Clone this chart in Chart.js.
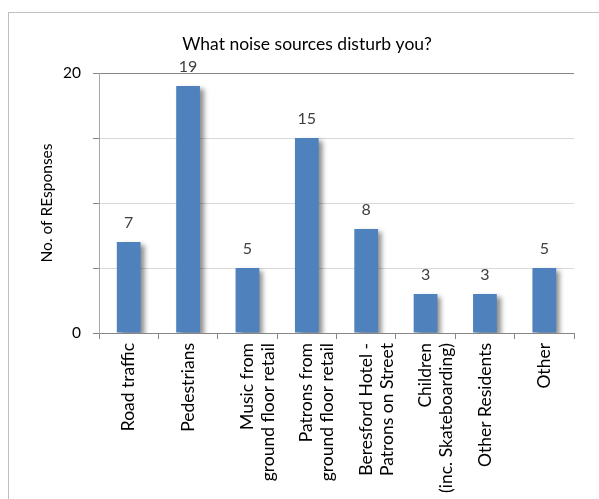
<!DOCTYPE html>
<html lang="en">
<head>
    <meta charset="UTF-8">
    <title>What noise sources disturb you?</title>
    <script src="https://cdn.jsdelivr.net/npm/chart.js"></script>
    <style>
        html, body { margin: 0; padding: 0; background: #fff; }
        #wrap { position: relative; width: 599px; height: 499px; overflow: hidden; }
        /* chart frame, it runs past the right and bottom edge */
        #frame {
            position: absolute; left: 8px; top: 12px;
            width: 640px; height: 540px;
            border: 1px solid #bfbfbf;
        }
        #chart { position: absolute; left: 0; top: 0; }
    </style>
</head>
<body>
    <div id="wrap">
        <div id="frame"></div>
        <canvas id="chart" width="599" height="499"></canvas>
    </div>
    <script>
        // data
        var categories = [
            'Road traffic',
            'Pedestrians',
            ['Music from', 'ground floor retail'],
            ['Patrons from', 'ground floor retail'],
            ['Beresford Hotel -', 'Patrons on Street'],
            ['Children', '(inc. Skateboarding)'],
            'Other Residents',
            'Other'
        ];
        var responses = [7, 19, 5, 15, 8, 3, 3, 5];
        var yTickLabels = [0, 20];

        var fontName = 'Lato, "Open Sans", sans-serif';

        // drop shadow under the bars
        var barShadow = {
            id: 'barShadow',
            beforeDatasetDraw: function (chart) {
                var c = chart.ctx;
                c.save();
                c.shadowColor = 'rgba(0,0,0,0.45)';
                c.shadowBlur = 5;
                c.shadowOffsetX = 4;
                c.shadowOffsetY = 3;
            },
            afterDatasetDraw: function (chart) {
                chart.ctx.restore();
            }
        };

        // value labels above the bars
        var valueLabels = {
            id: 'valueLabels',
            afterDatasetsDraw: function (chart) {
                var c = chart.ctx;
                var meta = chart.getDatasetMeta(0);
                c.save();
                c.font = '16px ' + fontName;
                c.fillStyle = '#404040';
                c.textAlign = 'center';
                c.textBaseline = 'alphabetic';
                meta.data.forEach(function (bar, i) {
                    c.fillText(String(responses[i]), bar.x, bar.y - 14);
                });
                c.restore();
            }
        };

        var ctx = document.getElementById('chart').getContext('2d');
        new Chart(ctx, {
            type: 'bar',
            data: {
                labels: categories,
                datasets: [{
                    label: 'No. of REsponses',
                    data: responses,
                    backgroundColor: '#4f81bd',
                    barPercentage: 0.4,
                    categoryPercentage: 1
                }]
            },
            options: {
                responsive: false,
                animation: false,
                // left padding is wide so the title sits a bit right of the canvas centre
                layout: { padding: { left: 40, right: 25, top: 0, bottom: 0 } },
                plugins: {
                    legend: { display: false },
                    tooltip: { enabled: false },
                    title: {
                        display: true,
                        text: 'What noise sources disturb you?',
                        color: '#000',
                        font: { family: fontName, size: 17.5, weight: 'normal', lineHeight: 1.2 },
                        padding: { top: 34, bottom: 18 }
                    }
                },
                scales: {
                    x: {
                        grid: {
                            drawOnChartArea: false,
                            tickLength: 6,
                            tickColor: '#868686'
                        },
                        border: { color: '#868686' },
                        ticks: {
                            autoSkip: false,
                            minRotation: 90,
                            maxRotation: 90,
                            padding: 4,
                            color: '#000',
                            font: { family: fontName, size: 17.5, lineHeight: 1.2 }
                        },
                        afterFit: function (scale) { scale.height = 166; }
                    },
                    y: {
                        min: 0,
                        max: 20,
                        title: {
                            display: true,
                            text: 'No. of REsponses',
                            color: '#000',
                            font: { family: fontName, size: 15.5, lineHeight: 1.2 },
                            padding: { top: -2.5, bottom: 0 }
                        },
                        grid: {
                            color: function (c) { return c.tick && c.tick.value === 20 ? '#868686' : '#d9d9d9'; },
                            tickLength: 6,
                            tickColor: '#868686'
                        },
                        border: { color: '#a6a6a6' },
                        ticks: {
                            stepSize: 5,
                            padding: 12,
                            color: '#000',
                            font: { family: fontName, size: 15.5 },
                            callback: function (v) { return yTickLabels.indexOf(v) >= 0 ? v : ''; }
                        },
                        afterFit: function (scale) { scale.width = 59; }
                    }
                }
            },
            plugins: [barShadow, valueLabels]
        });
    </script>
</body>
</html>
